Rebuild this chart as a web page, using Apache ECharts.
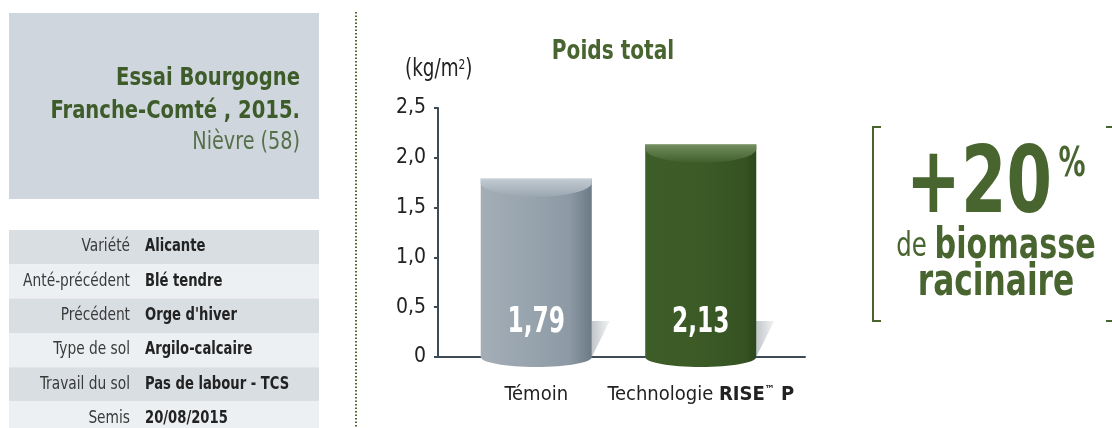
<!DOCTYPE html>
<html>
<head>
<meta charset="utf-8">
<script src="https://cdn.jsdelivr.net/npm/echarts@6/dist/echarts.min.js"></script>
<style>
  html, body { margin: 0; padding: 0; background: #fff; }
  #chart { width: 1112px; height: 428px; }
</style>
</head>
<body>
<div id="chart"></div>
<script>
// chart data
const categories = ["Témoin", "Technologie RISE™ P"];
const values = [1.79, 2.13];
const yMin = 0;
const yMax = 2.5;
const yStep = 0.5;

// trial sheet
const trialTitle = ["Essai Bourgogne", "Franche-Comté , 2015."];
const trialPlace = "Nièvre (58)";
const tableLabels = ["Variété", "Anté-précédent", "Précédent", "Type de sol", "Travail du sol", "Semis"];
const tableValues = ["Alicante", "Blé tendre", "Orge d'hiver", "Argilo-calcaire", "Pas de labour - TCS", "20/08/2015"];

const FONT = '"DejaVu Sans Condensed", "Liberation Sans", sans-serif';
const GREEN = "#48642f";
const AXIS = "#3d4b57";

const barStyles = [
  {
    body: [[0, "#a4aeb7"], [0.45, "#97a3ad"], [0.8, "#8d9aa5"], [1, "#6b7a86"]],
    top: [[0, "#c3cbd2"], [1, "#9ba7b1"]]
  },
  {
    body: [[0, "#3e5e29"], [0.5, "#3b5a26"], [0.9, "#355322"], [1, "#2c461c"]],
    top: [[0, "#718c5e"], [1, "#3f5f2a"]]
  }
];

function stops(list) {
  return list.map(([offset, color]) => ({ offset, color }));
}

function fmt(v) {
  return v === 0 ? "0" : v.toFixed(1).replace(".", ",");
}

function fmt2(v) {
  return v.toFixed(2).replace(".", ",");
}

// text squeezed horizontally to mimic the condensed face of the original
function squeezed(x, y, sx, style) {
  return { type: "text", x: x, y: y, scaleX: sx, style: Object.assign({ x: 0, y: 0, verticalAlign: "middle" }, style) };
}

function renderCylinder(params, api) {
  const idx = api.value(0);
  const val = api.value(1);
  const top = api.coord([idx, val]);
  const base = api.coord([idx, 0]);
  const w = api.size([1, 0])[0] * 0.675;
  const left = top[0] - w / 2;
  const right = top[0] + w / 2;
  const style = barStyles[idx];
  const bodyFill = new echarts.graphic.LinearGradient(0, 0, 1, 0, stops(style.body));
  const topFill = new echarts.graphic.LinearGradient(0, 0, 0, 1, stops(style.top));
  const capDepth = 14;
  return {
    type: "group",
    children: [
      {
        type: "polygon",
        shape: { points: [[right, base[1] - 36], [right + 18, base[1] - 36], [right, base[1]]] },
        style: { fill: new echarts.graphic.LinearGradient(0, 0, 1, 0, [{ offset: 0, color: "#c2c6ca" }, { offset: 1, color: "#f2f3f4" }]) }
      },
      {
        type: "ellipse",
        shape: { cx: top[0], cy: base[1], rx: w / 2, ry: 10 },
        style: { fill: bodyFill }
      },
      {
        type: "rect",
        shape: { x: left, y: top[1], width: w, height: base[1] - top[1] },
        style: { fill: bodyFill }
      },
      {
        type: "path",
        shape: {
          pathData: "M" + left + " " + top[1] + " L" + right + " " + top[1] +
            " L" + right + " " + (top[1] + 4) +
            " A" + (w / 2) + " " + capDepth + " 0 0 1 " + left + " " + (top[1] + 4) + " Z"
        },
        style: { fill: topFill }
      },
      {
        type: "line",
        shape: { x1: left, y1: top[1], x2: right, y2: top[1] },
        style: { stroke: idx === 0 ? "#d6dce1" : "#7d9669", lineWidth: 1 }
      },
      {
        type: "text",
        x: top[0],
        y: base[1] - 34,
        scaleX: 0.74,
        style: {
          text: fmt2(val),
          x: 0,
          y: 0,
          align: "center",
          verticalAlign: "middle",
          fill: "#ffffff",
          font: "bold 35px " + FONT
        }
      }
    ]
  };
}

// left panel graphics
const panel = [];
panel.push({ type: "rect", shape: { x: 9, y: 13, width: 310, height: 186 }, style: { fill: "#cfd6dd" } });
trialTitle.forEach((line, i) => {
  panel.push(squeezed(300, 78 + i * 33, 0.87, { text: line, align: "right", fill: "#3e5c2a", font: "bold 25px " + FONT }));
});
panel.push(squeezed(300, 143, 0.89, { text: trialPlace, align: "right", fill: "#56704a", font: "24px " + FONT }));
tableLabels.forEach((label, i) => {
  const y = 230 + i * 34.3;
  panel.push({
    type: "rect", shape: { x: 9, y: y, width: 310, height: 34.3 },
    style: { fill: i % 2 === 0 ? "#d9dee3" : "#edf0f2" }
  });
  panel.push(squeezed(130, y + 17, 0.9, { text: label, align: "right", fill: "#3a3a3a", font: "17px " + FONT }));
  panel.push(squeezed(145, y + 17, 0.86, { text: tableValues[i], align: "left", fill: "#222222", font: "bold 17px " + FONT }));
});
panel.push({
  type: "line", shape: { x1: 356, y1: 12, x2: 356, y2: 428 },
  style: { stroke: GREEN, lineWidth: 2, lineDash: [1.5, 2] }
});

// chart title and unit
panel.push(squeezed(613, 52, 0.86, { text: "Poids total", align: "center", fill: GREEN, font: "bold 26px " + FONT }));
panel.push(squeezed(405, 70, 0.85, {
  text: "(kg/m{sup|2})",
  align: "left", fill: "#222", font: "24px " + FONT,
  rich: { sup: { fontSize: 14, fontFamily: FONT, verticalAlign: "top", padding: [0, 0, 10, 0], fill: "#222" } }
}));

// right callout
panel.push({
  type: "polyline", shape: { points: [[881, 127], [873, 127], [873, 321], [881, 321]] },
  style: { stroke: GREEN, lineWidth: 2, fill: null }
});
panel.push({
  type: "polyline", shape: { points: [[1106, 127], [1113, 127], [1113, 321], [1106, 321]] },
  style: { stroke: GREEN, lineWidth: 2, fill: null }
});
panel.push(squeezed(979, 188, 0.79, { text: "+20", align: "center", fill: GREEN, font: "bold 92px " + FONT }));
panel.push(squeezed(1072, 166, 0.75, { text: "%", align: "center", fill: GREEN, font: "bold 40px " + FONT }));
panel.push(squeezed(996, 247, 0.8, {
  text: "{a|de }{b|biomasse}", align: "center",
  rich: {
    a: { fontSize: 34, fontFamily: FONT, fill: GREEN },
    b: { fontSize: 42, fontWeight: "bold", fontFamily: FONT, fill: GREEN }
  }
}));
panel.push(squeezed(996, 284, 0.79, { text: "racinaire", align: "center", fill: GREEN, font: "bold 44px " + FONT }));

const chart = echarts.init(document.getElementById("chart"), null, { renderer: "canvas" });
chart.setOption({
  animation: false,
  backgroundColor: "#ffffff",
  textStyle: { fontFamily: FONT },
  graphic: panel,
  grid: [
    { left: 438, right: 307, top: 108, bottom: 71 },
    { left: 454, right: 329, top: 108, bottom: 71 }
  ],
  xAxis: [
    {
      gridIndex: 0, type: "category", data: ["", ""],
      axisLine: { lineStyle: { color: AXIS, width: 2 } },
      axisTick: { show: false }, axisLabel: { show: false }
    },
    {
      gridIndex: 1, type: "category", data: categories,
      axisLine: { show: false }, axisTick: { show: false },
      axisLabel: {
        interval: 0, hideOverlap: false,
        margin: 28, color: "#222",
        formatter: (v) => v.indexOf("RISE") >= 0 ? "{n|Technologie }{b|RISE}{tm|™}{b| P}" : "{n|" + v + "}",
        rich: {
          n: { fontSize: 20, fontFamily: FONT, color: "#222" },
          b: { fontSize: 20, fontFamily: FONT, fontWeight: "bold", color: "#222" },
          tm: { fontSize: 11, fontFamily: FONT, fontWeight: "bold", color: "#222", verticalAlign: "top", padding: [0, 0, 8, 0] }
        }
      }
    }
  ],
  yAxis: [
    {
      gridIndex: 0, type: "value", min: yMin, max: yMax, interval: yStep,
      axisLine: { show: true, lineStyle: { color: AXIS, width: 2 } },
      axisTick: { show: true, length: 4, lineStyle: { color: AXIS, width: 2 } },
      axisLabel: { formatter: fmt, fontSize: 21, fontFamily: FONT, color: "#222", margin: 12 },
      splitLine: { show: false }
    },
    {
      gridIndex: 1, type: "value", min: yMin, max: yMax, interval: yStep,
      axisLine: { show: false }, axisTick: { show: false }, axisLabel: { show: false },
      splitLine: { show: false }
    }
  ],
  series: [
    {
      type: "custom",
      xAxisIndex: 1, yAxisIndex: 1,
      renderItem: renderCylinder,
      clip: false,
      z: 5,
      data: values.map((v, i) => [i, v])
    }
  ]
});
</script>
</body>
</html>
